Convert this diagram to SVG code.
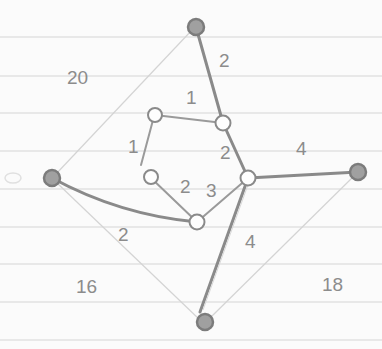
<svg xmlns="http://www.w3.org/2000/svg" width="382" height="349" viewBox="0 0 382 349">
<style>
.paper{fill:#fbfbfb}
.rule{stroke:#e2e2e2;stroke-width:1.5}
.faint{stroke:#d4d4d4;stroke-width:1.2;fill:none}
.edge{stroke:#8a8a8a;stroke-width:3;fill:none;stroke-linecap:round}
.thin{stroke:#9a9a9a;stroke-width:2;fill:none;stroke-linecap:round}
.hi{stroke:#d8d8d8;stroke-width:1;fill:none}
.solid{fill:#a0a0a0;stroke:#7c7c7c;stroke-width:2.5}
.hollow{fill:#fefefe;stroke:#8a8a8a;stroke-width:2}
.lbl{font-family:"Liberation Sans",Arial,sans-serif;font-size:19px;fill:#8c8c8c}
</style>
<rect class="paper" x="0" y="0" width="382" height="349"/>
<g id="rules">
<line class="rule" x1="0" y1="37" x2="382" y2="37"/>
<line class="rule" x1="0" y1="76" x2="382" y2="76"/>
<line class="rule" x1="0" y1="113" x2="382" y2="113"/>
<line class="rule" x1="0" y1="151" x2="382" y2="151"/>
<line class="rule" x1="0" y1="189" x2="382" y2="189"/>
<line class="rule" x1="0" y1="227" x2="382" y2="227"/>
<line class="rule" x1="0" y1="264" x2="382" y2="264"/>
<line class="rule" x1="0" y1="302" x2="382" y2="302"/>
<line class="rule" x1="0" y1="340" x2="382" y2="340"/>
</g>
<g id="connectors">
<line class="faint" x1="192" y1="30" x2="56" y2="174"/>
<line class="faint" x1="56" y1="182" x2="200" y2="320"/>
<line class="faint" x1="210" y1="318" x2="354" y2="176"/>
<line class="edge" x1="196" y1="27" x2="223" y2="123"/>
<line class="thin" x1="155" y1="115" x2="223" y2="123"/>
<line class="thin" x1="153" y1="120" x2="141" y2="165"/>
<line class="edge" x1="223" y1="123" x2="248" y2="178"/>
<line class="thin" x1="150" y1="177" x2="197" y2="222"/>
<path class="edge" d="M52,178 Q120,215 197,222"/>
<line class="thin" x1="197" y1="222" x2="248" y2="178"/>
<line class="edge" x1="248" y1="178" x2="358" y2="172"/>
<line class="edge" x1="248" y1="178" x2="200" y2="312"/>
<line class="hi" x1="249" y1="182" x2="203" y2="310"/>
</g>
<g id="n-top"><circle class="solid" cx="196" cy="27" r="8"/></g>
<g id="n-left"><circle class="solid" cx="52" cy="178" r="8"/></g>
<g id="n-farleft"><ellipse cx="13" cy="178" rx="8" ry="5" fill="none" stroke="#e0e0e0" stroke-width="1.5"/></g>
<g id="n-right"><circle class="solid" cx="358" cy="172" r="8"/></g>
<g id="n-bottom"><circle class="solid" cx="205" cy="322" r="8"/></g>
<g id="n-a"><circle class="hollow" cx="155" cy="115" r="7"/></g>
<g id="n-b"><circle class="hollow" cx="223" cy="123" r="7.5"/></g>
<g id="n-c"><circle class="hollow" cx="248" cy="178" r="7.5"/></g>
<g id="n-d"><circle class="hollow" cx="151" cy="177" r="7"/></g>
<g id="n-e"><circle class="hollow" cx="197" cy="222" r="7.5"/></g>
<g id="labels">
<text class="lbl" x="67" y="84">20</text>
<text class="lbl" x="219" y="67">2</text>
<text class="lbl" x="186" y="104">1</text>
<text class="lbl" x="128" y="153">1</text>
<text class="lbl" x="220" y="159">2</text>
<text class="lbl" x="296" y="155">4</text>
<text class="lbl" x="180" y="193">2</text>
<text class="lbl" x="206" y="197">3</text>
<text class="lbl" x="118" y="241">2</text>
<text class="lbl" x="245" y="248">4</text>
<text class="lbl" x="76" y="293">16</text>
<text class="lbl" x="322" y="291">18</text>
</g>
</svg>
